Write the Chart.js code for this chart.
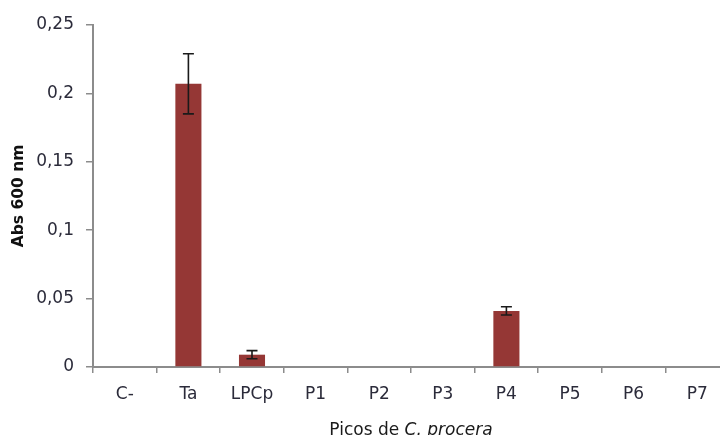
<!DOCTYPE html>
<html>
<head>
<meta charset="utf-8">
<script src="https://cdn.jsdelivr.net/npm/chart.js@4.4.1/dist/chart.umd.min.js"></script>
<style>
  html, body { margin: 0; padding: 0; background: #fff; overflow: hidden; }
  #wrap { width: 720px; height: 435px; overflow: hidden; }
</style>
</head>
<body>
<div id="wrap"><canvas id="myChart" width="740" height="440"></canvas></div>
<script>
const categories = ['C-', 'Ta', 'LPCp', 'P1', 'P2', 'P3', 'P4', 'P5', 'P6', 'P7'];
const absValues = [0, 0.207, 0.009, 0, 0, 0, 0.041, 0, 0, 0];
const absErrors = [0, 0.022, 0.003, 0, 0, 0, 0.003, 0, 0, 0];
const yTickLabels = ['0', '0,05', '0,1', '0,15', '0,2', '0,25'];

const FONT = '"DejaVu Sans", Verdana, sans-serif';
const AXIS_GRAY = '#8c8c8c';

// error bars, drawn through the y scale
const errorBars = {
  id: 'errorBars',
  afterDatasetsDraw(chart) {
    const ctx = chart.ctx;
    const meta = chart.getDatasetMeta(0);
    const y = chart.scales.y;
    ctx.save();
    ctx.strokeStyle = '#1a1a1a';
    ctx.lineWidth = 1.6;
    meta.data.forEach((bar, i) => {
      const err = absErrors[i];
      if (!err) return;
      const top = y.getPixelForValue(absValues[i] + err);
      const bottom = y.getPixelForValue(absValues[i] - err);
      const x = bar.x;
      ctx.beginPath();
      ctx.moveTo(x, top); ctx.lineTo(x, bottom);
      ctx.moveTo(x - 5.5, top); ctx.lineTo(x + 5.5, top);
      ctx.moveTo(x - 5.5, bottom); ctx.lineTo(x + 5.5, bottom);
      ctx.stroke();
    });
    ctx.restore();
  }
};

// x title with italic species name
const xTitle = {
  id: 'xTitle',
  afterDraw(chart) {
    const ctx = chart.ctx;
    const area = chart.chartArea;
    const part1 = 'Picos de ';
    const part2 = 'C. procera';
    ctx.save();
    ctx.fillStyle = '#1a1a1a';
    ctx.textBaseline = 'alphabetic';
    ctx.font = '17px ' + FONT;
    const w1 = ctx.measureText(part1).width;
    ctx.font = 'italic 17px ' + FONT;
    const w2 = ctx.measureText(part2).width;
    const x0 = (area.left + area.right) / 2 - (w1 + w2) / 2;
    const yb = 435;
    ctx.font = '17px ' + FONT;
    ctx.fillText(part1, x0, yb);
    ctx.font = 'italic 17px ' + FONT;
    ctx.fillText(part2, x0 + w1, yb);
    ctx.restore();
  }
};

const ctx = document.getElementById('myChart').getContext('2d');
new Chart(ctx, {
  type: 'bar',
  data: {
    labels: categories,
    datasets: [{
      data: absValues,
      backgroundColor: '#953735',
      borderWidth: 0,
      categoryPercentage: 1,
      barPercentage: 0.41
    }]
  },
  options: {
    responsive: false,
    animation: false,
    layout: { padding: { top: 25, right: 11, left: 0, bottom: 0 } },
    plugins: {
      legend: { display: false },
      tooltip: { enabled: false }
    },
    scales: {
      x: {
        afterFit(scale) { scale.height = 73; },
        grid: {
          offset: true,
          drawOnChartArea: false,
          tickLength: 6,
          color: AXIS_GRAY,
          lineWidth: 1.5
        },
        border: { color: AXIS_GRAY, width: 2 },
        ticks: {
          color: '#2b2b3a',
          padding: 11,
          maxRotation: 0,
          font: { family: FONT, size: 17 }
        }
      },
      y: {
        min: 0,
        max: 0.25,
        afterFit(scale) { scale.width = 93; },
        grid: {
          drawOnChartArea: false,
          tickLength: 7,
          color: AXIS_GRAY,
          lineWidth: 1.5
        },
        border: { color: AXIS_GRAY, width: 2 },
        ticks: {
          stepSize: 0.05,
          color: '#2b2b3a',
          padding: 12,
          font: { family: FONT, size: 17 },
          callback: (v, i) => yTickLabels[i]
        },
        title: {
          display: true,
          text: 'Abs 600 nm',
          color: '#111',
          padding: { top: 10, bottom: 0 },
          font: { family: FONT, size: 15.5, weight: 'bold' }
        }
      }
    }
  },
  plugins: [errorBars, xTitle]
});
</script>
</body>
</html>
